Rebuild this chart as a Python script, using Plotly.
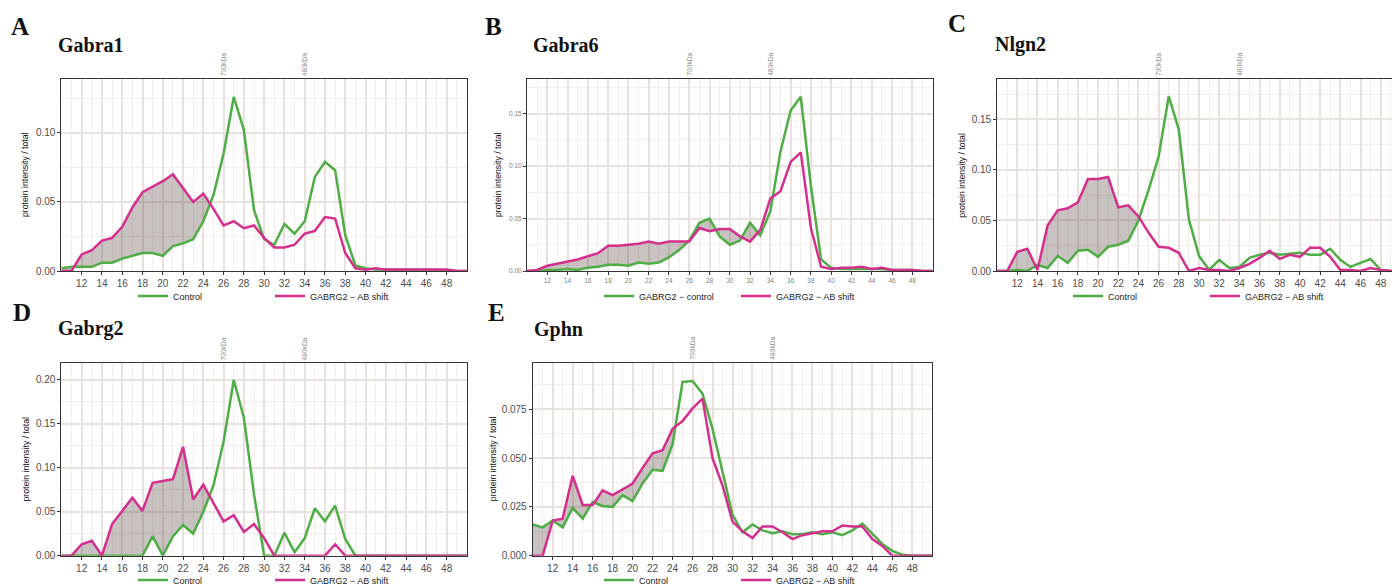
import plotly.graph_objects as go

W, H = 1392, 585

fractions = list(range(10, 51))
tick_fractions = list(range(12, 49, 2))
minor_fractions = list(range(11, 50, 2))
marker_labels = ["700kDa", "480kDa"]
marker_fractions = [26, 34]

# ---- data (protein intensity / total), fractions 10..50 ----
gabra1_control = [0.002, 0.003, 0.003, 0.003, 0.006, 0.006, 0.009, 0.011, 0.013, 0.013,
                  0.011, 0.018, 0.020, 0.023, 0.036, 0.055, 0.085, 0.126, 0.102, 0.044,
                  0.023, 0.019, 0.034, 0.027, 0.036, 0.068, 0.079, 0.073, 0.026, 0.004,
                  0.002, 0.001, 0.001, 0.001, 0.001, 0.0005, 0.0005, 0.0005, 0.0005, 0.0, 0.0]
gabra1_shift = [0.0, 0.0, 0.012, 0.015, 0.022, 0.024, 0.032, 0.046, 0.057, 0.061,
                0.065, 0.070, 0.060, 0.050, 0.056, 0.045, 0.033, 0.036, 0.031, 0.033,
                0.024, 0.017, 0.017, 0.019, 0.027, 0.029, 0.039, 0.038, 0.013, 0.002,
                0.001, 0.002, 0.001, 0.001, 0.001, 0.0005, 0.001, 0.001, 0.001, 0.0, 0.0]

gabra6_control = [0.0, 0.0, 0.001, 0.001, 0.002, 0.001, 0.003, 0.004, 0.006, 0.006,
                  0.005, 0.008, 0.007, 0.008, 0.013, 0.020, 0.029, 0.046, 0.050, 0.033,
                  0.025, 0.029, 0.046, 0.034, 0.057, 0.114, 0.153, 0.166, 0.081, 0.011,
                  0.003, 0.002, 0.002, 0.002, 0.002, 0.002, 0.001, 0.001, 0.001, 0.0, 0.0]
gabra6_shift = [0.0, 0.001, 0.005, 0.007, 0.009, 0.011, 0.014, 0.017, 0.024, 0.024,
                0.025, 0.026, 0.028, 0.026, 0.028, 0.028, 0.028, 0.041, 0.038, 0.040,
                0.040, 0.033, 0.028, 0.039, 0.069, 0.076, 0.104, 0.113, 0.041, 0.004,
                0.002, 0.003, 0.003, 0.004, 0.002, 0.003, 0.001, 0.001, 0.001, 0.0, 0.0]

nlgn2_control = [0.0, 0.0, 0.001, 0.0, 0.006, 0.003, 0.015, 0.008, 0.020, 0.021,
                 0.014, 0.024, 0.026, 0.030, 0.050, 0.080, 0.113, 0.173, 0.140, 0.051,
                 0.015, 0.001, 0.011, 0.003, 0.004, 0.013, 0.016, 0.018, 0.016, 0.017,
                 0.018, 0.016, 0.016, 0.022, 0.011, 0.004, 0.008, 0.012, 0.001, 0.0, 0.0]
nlgn2_shift = [0.0, 0.0, 0.019, 0.022, 0.001, 0.045, 0.060, 0.062, 0.068, 0.091,
               0.091, 0.093, 0.063, 0.065, 0.054, 0.038, 0.024, 0.023, 0.018, 0.0,
               0.003, 0.001, 0.001, 0.0, 0.003, 0.007, 0.013, 0.020, 0.012, 0.016,
               0.014, 0.023, 0.023, 0.014, 0.001, 0.001, 0.0, 0.003, 0.001, 0.0, 0.0]

gabrg2_control = [0.0, 0.0, 0.0, 0.0, 0.0, 0.0, 0.0, 0.0, 0.0, 0.022,
                  0.0, 0.022, 0.035, 0.025, 0.050, 0.080, 0.130, 0.200, 0.157, 0.070,
                  0.0, 0.0, 0.026, 0.004, 0.020, 0.054, 0.039, 0.057, 0.019, 0.0,
                  0.0, 0.0, 0.0, 0.0, 0.0, 0.0, 0.0, 0.0, 0.0, 0.0, 0.0]
gabrg2_shift = [0.0, 0.0, 0.013, 0.017, 0.0, 0.036, 0.051, 0.066, 0.051, 0.083,
                0.085, 0.087, 0.124, 0.064, 0.081, 0.060, 0.039, 0.046, 0.027, 0.036,
                0.020, 0.0, 0.0, 0.0, 0.0, 0.0, 0.0, 0.013, 0.0, 0.0,
                0.0, 0.0, 0.0, 0.0, 0.0, 0.0, 0.0, 0.0, 0.0, 0.0, 0.0]

gphn_control = [0.016, 0.0145, 0.018, 0.0145, 0.0245, 0.019, 0.0275, 0.0255, 0.025, 0.031,
                0.028, 0.037, 0.044, 0.0435, 0.057, 0.089, 0.0895, 0.083, 0.065, 0.043,
                0.021, 0.012, 0.016, 0.013, 0.0115, 0.0125, 0.011, 0.011, 0.012, 0.011,
                0.012, 0.0105, 0.013, 0.0165, 0.011, 0.006, 0.0025, 0.0005, 0.0, 0.0, 0.0]
gphn_shift = [0.0, 0.0, 0.018, 0.019, 0.041, 0.026, 0.026, 0.0335, 0.031, 0.034,
              0.037, 0.045, 0.0525, 0.054, 0.065, 0.069, 0.0755, 0.0805, 0.050, 0.036,
              0.0175, 0.0125, 0.009, 0.015, 0.015, 0.012, 0.0085, 0.0105, 0.0115, 0.0125,
              0.0125, 0.0155, 0.015, 0.015, 0.0085, 0.005, 0.0, 0.0, 0.0, 0.0, 0.0]

GREEN = "#4EAD45"
PINK = "#D42F8E"
FILL = "rgba(110,95,90,0.38)"
GRID_MAJOR = "#E8E1DD"
GRID_MINOR = "#F2EEEC"
SANS = "Liberation Sans, Arial, sans-serif"
SERIF = "Liberation Serif, Times New Roman, serif"

panels = [
    dict(letter="A", gene="Gabra1", ctrl=gabra1_control, shift=gabra1_shift,
         names=["Control", "GABRG2 \u2212 AB shift"],
         px=(61.4, 466.9), py=(79, 271), xmax=50, ymax=0.139,
         yt=[0, 0.05, 0.10], ytt=["0.00", "0.05", "0.10"], ym=[0.025, 0.075, 0.125],
         fill_until=24, tfs=10, tfc="#4D4D4D",
         letter_xy=(9, 27), gene_xy=(55.5, 44.7), ytitle_x=25, legend_xy=(133, 296)),
    dict(letter="B", gene="Gabra6", ctrl=gabra6_control, shift=gabra6_shift,
         names=["GABRG2 \u2212 control", "GABRG2 \u2212 AB shift"],
         px=(527.0, 932.6), py=(79, 271), xmax=50, ymax=0.183,
         yt=[0, 0.05, 0.10, 0.15], ytt=["0.00", "0.05", "0.10", "0.15"],
         ym=[0.025, 0.075, 0.125, 0.175],
         fill_until=32, tfs=6.5, tfc="#7F7F7F",
         letter_xy=(482.5, 27), gene_xy=(530.5, 44.7), ytitle_x=498, legend_xy=(599, 296)),
    dict(letter="C", gene="Nlgn2", ctrl=nlgn2_control, shift=nlgn2_shift,
         names=["Control", "GABRG2 \u2212 AB shift"],
         px=(997.1, 1392), py=(79, 271), xmax=49.12, ymax=0.190,
         yt=[0, 0.05, 0.10, 0.15], ytt=["0.00", "0.05", "0.10", "0.15"],
         ym=[0.025, 0.075, 0.125, 0.175],
         fill_until=24, tfs=10, tfc="#4D4D4D",
         letter_xy=(946.5, 23.3), gene_xy=(993, 44.2), ytitle_x=961.7, legend_xy=(1068, 296)),
    dict(letter="D", gene="Gabrg2", ctrl=gabrg2_control, shift=gabrg2_shift,
         names=["Control", "GABRG2 \u2212 AB shift"],
         px=(61.4, 466.9), py=(363.3, 555.7), xmax=50, ymax=0.219,
         yt=[0, 0.05, 0.10, 0.15, 0.20], ytt=["0.00", "0.05", "0.10", "0.15", "0.20"],
         ym=[0.025, 0.075, 0.125, 0.175],
         fill_until=24, tfs=10, tfc="#4D4D4D",
         letter_xy=(11, 312.5), gene_xy=(56, 328.7), ytitle_x=25, legend_xy=(133, 580)),
    dict(letter="E", gene="Gphn", ctrl=gphn_control, shift=gphn_shift,
         names=["Control", "GABRG2 \u2212 AB shift"],
         px=(532.7, 932.3), py=(362.7, 555.7), xmax=50, ymax=0.0989,
         yt=[0, 0.025, 0.05, 0.075], ytt=["0.000", "0.025", "0.050", "0.075"],
         ym=[0.0125, 0.0375, 0.0625, 0.0875],
         fill_until=24, tfs=10, tfc="#4D4D4D",
         letter_xy=(486, 312.5), gene_xy=(531.5, 329), ytitle_x=493, legend_xy=(599, 580)),
]


def ribbon(x, top, bottom, until):
    xs, yt, yb = [], [], []
    for i, xi in enumerate(x):
        if xi > until:
            d0 = top[i - 1] - bottom[i - 1]
            d1 = top[i] - bottom[i]
            if d0 * d1 < 0:
                t = d0 / (d0 - d1)
                xc = x[i - 1] + t * (x[i] - x[i - 1])
                yc = top[i - 1] + t * (top[i] - top[i - 1])
                xs.append(xc); yt.append(yc); yb.append(yc)
            break
        xs.append(xi); yt.append(top[i]); yb.append(bottom[i])
    return xs + xs[::-1], yt + yb[::-1]


fig = go.Figure()
annotations = []
layout = dict(
    width=W, height=H,
    margin=dict(l=0, r=0, t=0, b=0, autoexpand=False),
    paper_bgcolor="white", plot_bgcolor="white",
    font=dict(family=SANS, color="#333333"),
)

for i, p in enumerate(panels):
    n = i + 1
    sfx = "" if n == 1 else str(n)
    xref, yref = "x" + sfx, "y" + sfx
    leg = "legend" + sfx

    rx, ry = ribbon(fractions, p["shift"], p["ctrl"], p["fill_until"])
    fig.add_trace(go.Scatter(x=rx, y=ry, mode="lines", fill="toself", fillcolor=FILL,
                             line=dict(width=0), hoverinfo="skip", showlegend=False,
                             xaxis=xref, yaxis=yref))
    fig.add_trace(go.Scatter(x=fractions, y=p["ctrl"], mode="lines", name=p["names"][0],
                             line=dict(color=GREEN, width=2.5), xaxis=xref, yaxis=yref,
                             legend=leg))
    fig.add_trace(go.Scatter(x=fractions, y=p["shift"], mode="lines", name=p["names"][1],
                             line=dict(color=PINK, width=2.5), xaxis=xref, yaxis=yref,
                             legend=leg))

    x0, x1 = p["px"]
    ytop, ybot = p["py"]
    layout["xaxis" + sfx] = dict(
        domain=[x0 / W, x1 / W], range=[10, p["xmax"]], anchor=yref,
        tickmode="array", tickvals=tick_fractions, ticks="outside", ticklen=3,
        tickcolor="#333333", tickwidth=1,
        tickfont=dict(size=p["tfs"], color=p["tfc"], family=SANS),
        showline=True, linecolor="#333333", linewidth=1, mirror=True,
        showgrid=True, gridcolor=GRID_MAJOR, gridwidth=1.8, zeroline=False,
        minor=dict(tickmode="array", tickvals=minor_fractions, showgrid=True,
                   gridcolor=GRID_MINOR, gridwidth=0.9, ticks=""),
    )
    layout["yaxis" + sfx] = dict(
        domain=[(H - ybot) / H, (H - ytop) / H], range=[0, p["ymax"]], anchor=xref,
        tickmode="array", tickvals=p["yt"], ticktext=p["ytt"], ticks="outside", ticklen=3,
        tickcolor="#333333", tickwidth=1,
        tickfont=dict(size=p["tfs"], color=p["tfc"], family=SANS),
        showline=True, linecolor="#333333", linewidth=1, mirror=(n != 3),
        showgrid=True, gridcolor=GRID_MAJOR, gridwidth=1.8, zeroline=False,
        minor=dict(tickmode="array", tickvals=p["ym"], showgrid=True,
                   gridcolor=GRID_MINOR, gridwidth=0.9, ticks=""),
    )
    lx, ly = p["legend_xy"]
    layout[leg] = dict(
        orientation="h", x=lx / W, y=(H - ly) / H, xanchor="left", yanchor="middle",
        font=dict(size=9, color="#222222", family=SANS), bgcolor="rgba(0,0,0,0)",
        itemwidth=30, entrywidthmode="pixels", entrywidth=92, itemclick=False,
        itemdoubleclick=False,
    )

    # panel letter and gene title
    annotations.append(dict(text="<b>%s</b>" % p["letter"], xref="paper", yref="paper",
                            x=p["letter_xy"][0] / W, y=(H - p["letter_xy"][1]) / H,
                            xanchor="left", yanchor="middle", showarrow=False,
                            font=dict(family=SERIF, size=25, color="#111111")))
    annotations.append(dict(text="<b>%s</b>" % p["gene"], xref="paper", yref="paper",
                            x=p["gene_xy"][0] / W, y=(H - p["gene_xy"][1]) / H,
                            xanchor="left", yanchor="middle", showarrow=False,
                            font=dict(family=SERIF, size=20, color="#111111")))
    # y-axis title
    annotations.append(dict(text="protein intensity / total", xref="paper", yref="paper",
                            x=p["ytitle_x"] / W, y=(H - (ytop + ybot) / 2) / H,
                            xanchor="center", yanchor="middle", textangle=-90,
                            showarrow=False,
                            font=dict(family=SANS, size=8.7, color="#111111")))
    # molecular weight markers
    for lab, fx in zip(marker_labels, marker_fractions):
        annotations.append(dict(text=lab, xref=xref, yref=yref + " domain", x=fx, y=1,
                                xanchor="center", yanchor="bottom", yshift=1,
                                textangle=-90, showarrow=False,
                                font=dict(family=SANS, size=6.7, color="#8C8C8C")))

layout["annotations"] = annotations
fig.update_layout(**layout)
fig.write_html("out.html")
